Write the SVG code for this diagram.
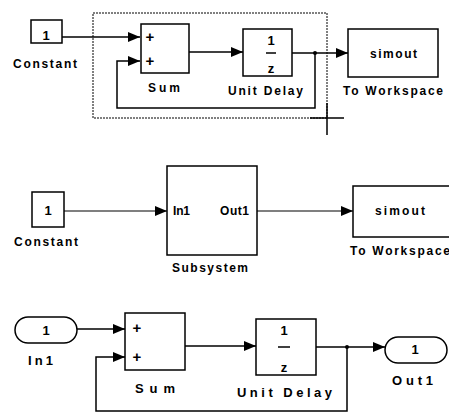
<svg xmlns="http://www.w3.org/2000/svg" width="449" height="413" viewBox="0 0 449 413">
<style>
.blk{fill:#fff;stroke:#000;stroke-width:1.5}
.ln{fill:none;stroke:#000;stroke-width:1.5}
.ln1{fill:none;stroke:#000;stroke-width:1.2}
text{font-family:"Liberation Sans",Arial,sans-serif;font-size:12px;fill:#000;font-weight:bold}
.c{text-anchor:middle}
.big{font-size:13px}
.pl{font-size:15px}
.lg{font-size:13px}
</style>
<defs>
<marker id="ar" viewBox="0 0 12 10" markerWidth="12" markerHeight="10" refX="12" refY="5" orient="auto" markerUnits="userSpaceOnUse">
<path d="M0,0 L12,5 L0,10 z" fill="#000"/>
</marker>
</defs>
<rect width="449" height="413" fill="#fff"/>

<g id="connectors">
<path class="ln" d="M62,37 H140" marker-end="url(#ar)"/>
<path class="ln" d="M315,53 V108 H117 V61 H140" marker-end="url(#ar)"/>
<path class="ln" d="M189,52 H243" marker-end="url(#ar)"/>
<path class="ln" d="M292,53 H348" marker-end="url(#ar)"/>
<circle cx="315" cy="53" r="2"/>

<path class="ln1" d="M64,211 H167" marker-end="url(#ar)"/>
<path class="ln1" d="M257,211 H353" marker-end="url(#ar)"/>

<path class="ln" d="M77,329 H125" marker-end="url(#ar)"/>
<path class="ln" d="M347,347 V411 H96 V357 H125" marker-end="url(#ar)"/>
<path class="ln" d="M185,346 H256" marker-end="url(#ar)"/>
<path class="ln" d="M316,347 H385" marker-end="url(#ar)"/>
<circle cx="347" cy="347" r="2"/>
</g>

<g id="selection">
<rect x="93" y="13" width="234" height="105" fill="none" stroke="#000" stroke-width="1" stroke-dasharray="2,1"/>
<path d="M327,103 V135 M310,118 H344" stroke="#000" stroke-width="1.5" fill="none"/>
</g>

<g id="top-constant">
<rect class="blk" x="31" y="20" width="31" height="23"/>
<text class="c big" x="46" y="40">1</text>
<text x="13" y="68" textLength="64" lengthAdjust="spacing">Constant</text>
</g>
<g id="top-sum">
<rect class="blk" x="141" y="24" width="48" height="49"/>
<text class="c pl" x="150" y="42">+</text>
<text class="c pl" x="150" y="66">+</text>
<text x="148" y="92" textLength="32" lengthAdjust="spacing">Sum</text>
</g>
<g id="top-unitdelay">
<rect class="blk" x="243" y="29" width="49" height="47"/>
<text class="c big" x="271" y="45">1</text>
<path d="M266,53 H276" stroke="#000" stroke-width="1.5"/>
<text class="c big" x="271" y="73">z</text>
<text x="228" y="95" textLength="75" lengthAdjust="spacing">Unit Delay</text>
</g>
<g id="top-toworkspace">
<rect class="blk" x="348" y="29" width="90" height="48"/>
<text x="370" y="58" textLength="47" lengthAdjust="spacing">simout</text>
<text x="343" y="95" textLength="100" lengthAdjust="spacing">To Workspace</text>
</g>

<g id="mid-constant">
<rect class="blk" x="32" y="192" width="32" height="35"/>
<text class="c big" x="48" y="215">1</text>
<text x="14" y="246" textLength="64" lengthAdjust="spacing">Constant</text>
</g>
<g id="mid-subsystem">
<rect class="blk" x="167" y="166" width="90" height="89"/>
<text x="173" y="215" textLength="17" lengthAdjust="spacing">In1</text>
<text x="220" y="215" textLength="29" lengthAdjust="spacing">Out1</text>
<text x="172" y="272" textLength="76" lengthAdjust="spacing">Subsystem</text>
</g>
<g id="mid-toworkspace">
<rect class="blk" x="353" y="186" width="100" height="51"/>
<text x="375" y="215" textLength="50" lengthAdjust="spacing">simout</text>
<text x="350" y="255" textLength="100" lengthAdjust="spacing">To Workspace</text>
</g>

<g id="bot-in1">
<rect class="blk" x="15" y="317" width="62" height="26" rx="13" ry="13"/>
<text class="c big" x="46" y="335">1</text>
<text class="lg" x="28" y="365" textLength="25" lengthAdjust="spacing">In1</text>
</g>
<g id="bot-sum">
<rect class="blk" x="125" y="313" width="60" height="57"/>
<text class="c pl" x="137" y="333">+</text>
<text class="c pl" x="137" y="362">+</text>
<text class="lg" x="135" y="393" textLength="40" lengthAdjust="spacing">Sum</text>
</g>
<g id="bot-unitdelay">
<rect class="blk" x="256" y="319" width="60" height="56"/>
<text class="c big" x="284" y="335">1</text>
<path d="M278,347 H290" stroke="#000" stroke-width="1.5"/>
<text class="c big" x="284" y="372">z</text>
<text class="lg" x="237" y="397" textLength="95" lengthAdjust="spacing">Unit Delay</text>
</g>
<g id="bot-out1">
<rect class="blk" x="385" y="337" width="62" height="26" rx="13" ry="13"/>
<text class="c big" x="415" y="354">1</text>
<text class="lg" x="392" y="385" textLength="41" lengthAdjust="spacing">Out1</text>
</g>
</svg>
